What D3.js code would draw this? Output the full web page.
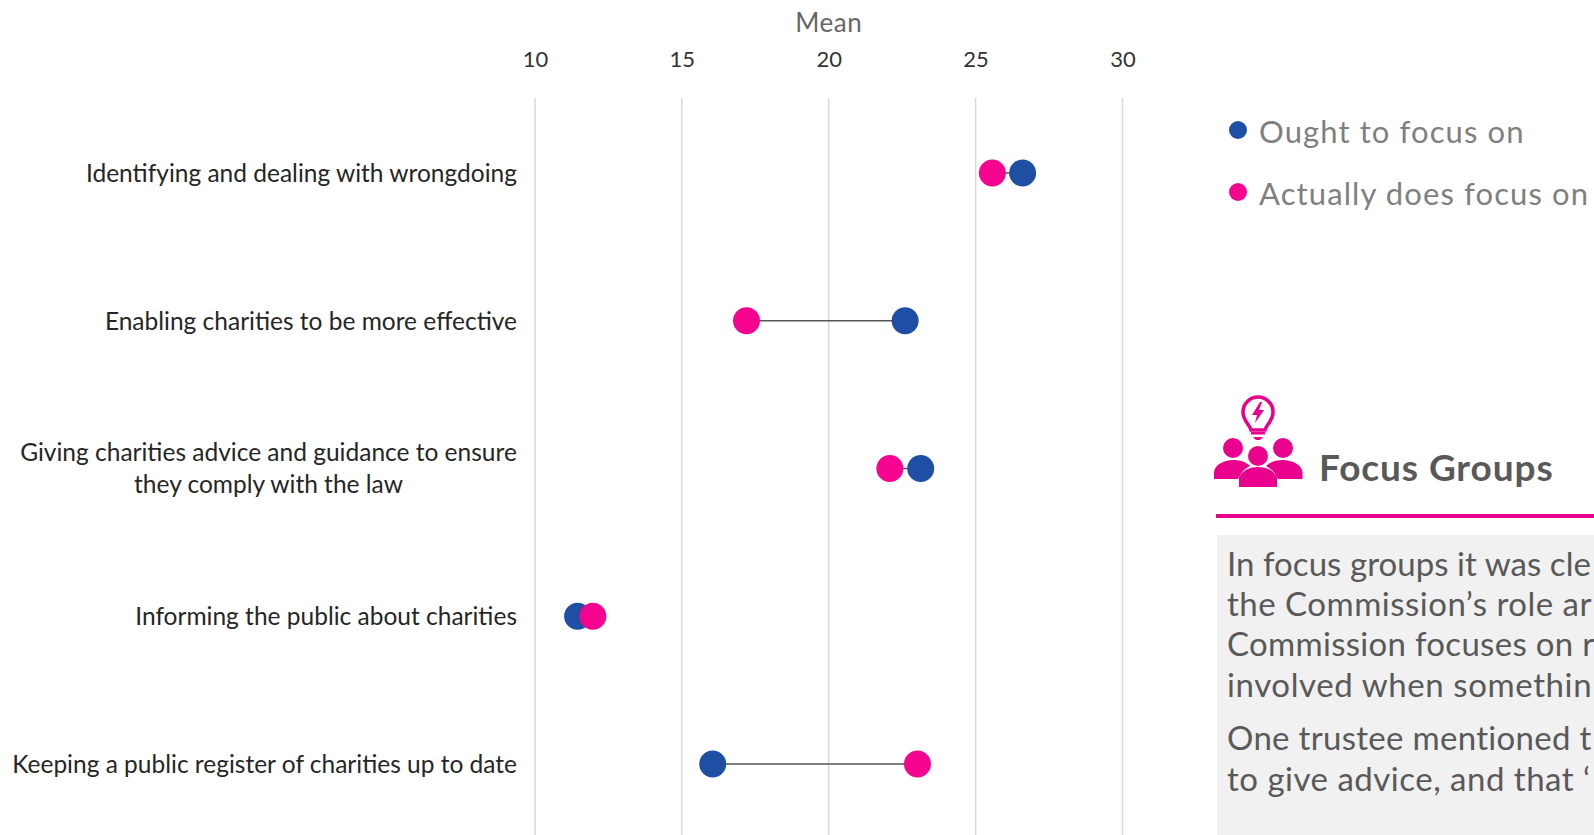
<!DOCTYPE html>
<html>
<head>
<meta charset="utf-8">
<script src="https://cdn.jsdelivr.net/npm/d3@7"></script>
<style>
  html, body { margin: 0; padding: 0; background: #fff; overflow: hidden; }
  svg { display: block; font-family: Lato, "Open Sans", sans-serif; }
</style>
</head>
<body>
<svg id="chart" width="1594" height="835"></svg>
<script>
// Mean scores per Commission activity
const categories = [
  "Identifying and dealing with wrongdoing",
  "Enabling charities to be more effective",
  "Giving charities advice and guidance to ensure|they comply with the law",
  "Informing the public about charities",
  "Keeping a public register of charities up to date"
];
const oughtValues = [26.6, 22.6, 23.13, 11.45, 16.05];
const actualValues = [25.57, 17.2, 22.08, 11.97, 23.02];
const axisTicks = [10, 15, 20, 25, 30];
const legendLabels = ["Ought to focus on", "Actually does focus on"];
const panelTitle = "Focus Groups";
const panelLines = [
  "In focus groups it was cle",
  "the Commission’s role ar",
  "Commission focuses on r",
  "involved when somethin",
  "One trustee mentioned t",
  "to give advice, and that ‘"
];

const BLUE = "#1F4EA5", PINK = "#F5058F", ACCENT = "#E9008C";
const svg = d3.select("#chart");

const x = d3.scaleLinear().domain([10, 30]).range([535, 1122.5]);
const y = d3.scalePoint().domain(categories).range([173, 764]);

// Vertical gridlines
svg.append("g").selectAll("line").data(axisTicks).join("line")
  .attr("x1", d => x(d)).attr("x2", d => x(d))
  .attr("y1", 98).attr("y2", 835)
  .attr("stroke", "#d9d9d9").attr("stroke-width", 1.5);

// Value axis along the top
const axis = svg.append("g").attr("transform", "translate(0,67)")
  .call(d3.axisTop(x).tickValues(axisTicks).tickSize(0).tickPadding(0).tickFormat(d3.format("d")));
axis.select(".domain").remove();
axis.selectAll("text")
  .attr("font-family", "Lato").attr("font-size", 22).attr("fill", "#333");

svg.append("text").attr("x", x(20)).attr("y", 32).attr("text-anchor", "middle")
  .attr("font-size", 26).attr("letter-spacing", 0.5).attr("fill", "#666").text("Mean");

// Category labels, right aligned; wrapped labels are centred as a block
const rows = svg.append("g").selectAll("g").data(categories).join("g")
  .attr("transform", d => `translate(0,${y(d)})`);
rows.each(function (d) {
  const parts = d.split("|");
  const g = d3.select(this);
  parts.forEach((p, i) => {
    g.append("text")
      .attr("x", parts.length > 1 ? 268.5 : 517)
      .attr("y", (parts.length > 1 ? 8 : 9) + (i - (parts.length - 1) / 2) * 32)
      .attr("text-anchor", parts.length > 1 ? "middle" : "end")
      .attr("font-size", 24.5)
      .attr("fill", "#262626").text(p);
  });
});

// Connectors between each pair of dots
svg.append("g").selectAll("line").data(categories).join("line")
  .attr("x1", (d, i) => x(oughtValues[i])).attr("x2", (d, i) => x(actualValues[i]))
  .attr("y1", d => y(d)).attr("y2", d => y(d))
  .attr("stroke", "#555").attr("stroke-width", 1.5);

// Dots: the "actually" series sits on top
svg.append("g").selectAll("circle").data(categories).join("circle")
  .attr("cx", (d, i) => x(oughtValues[i])).attr("cy", d => y(d)).attr("r", 13.5).attr("fill", BLUE);
svg.append("g").selectAll("circle").data(categories).join("circle")
  .attr("cx", (d, i) => x(actualValues[i])).attr("cy", d => y(d)).attr("r", 13.5).attr("fill", PINK);

// Legend
const legendY = d3.scalePoint().domain(legendLabels).range([130, 192]);
const legendColor = d3.scaleOrdinal().domain(legendLabels).range([BLUE, PINK]);
const legend = svg.append("g").selectAll("g").data(legendLabels).join("g")
  .attr("transform", d => `translate(0,${legendY(d)})`);
legend.append("circle").attr("cx", 1238).attr("r", 9).attr("fill", d => legendColor(d));
legend.append("text").attr("x", 1259).attr("y", 13).attr("font-size", 31).attr("letter-spacing", 1.1)
  .attr("fill", "#7f7f7f").text(d => d);

// Focus-groups panel: icon, heading, rule and quote box
const icon = svg.append("g").attr("fill", ACCENT);
const bulb = icon.append("g").attr("fill", "none").attr("stroke", ACCENT);
bulb.append("path").attr("stroke-width", 3.5)
  .attr("d", "M1251,430 C1250,425 1243,421 1243,412 A15,15 0 1 1 1273,412 C1273,421 1266,425 1265,430 Z");
icon.append("path").attr("d", "M1260,402 L1252,415 L1257,415 L1255,423 L1264,410 L1259,410 L1262,402 Z");
icon.append("rect").attr("x", 1251).attr("y", 432).attr("width", 14).attr("height", 2.5);
icon.append("path").attr("d", "M1253,437 H1263 L1260,440 H1256 Z");
icon.append("circle").attr("cx", 1233).attr("cy", 448).attr("r", 10);
icon.append("circle").attr("cx", 1283).attr("cy", 448).attr("r", 10);
icon.append("path").attr("d", "M1214,479 V473 C1214,465 1224,460 1233,460 C1240,460 1246,462 1250,466 C1244,469 1240,474 1238,479 Z");
icon.append("path").attr("d", "M1302.5,479 V473 C1302.5,465 1292,460 1283,460 C1276,460 1270,462 1266,466 C1272,469 1276,474 1278,479 Z");
icon.append("circle").attr("cx", 1258).attr("cy", 456).attr("r", 10);
icon.append("path").attr("d", "M1239,487 V477 C1243,470 1250,467 1258,467 C1266,467 1273,470 1277,477 V487 Z");

svg.append("text").attr("x", 1319).attr("y", 481).attr("font-size", 37).attr("letter-spacing", 0.9).attr("font-weight", 700)
  .attr("fill", "#595959").text(panelTitle);
svg.append("rect").attr("x", 1216).attr("y", 514).attr("width", 378).attr("height", 4).attr("fill", ACCENT);
svg.append("rect").attr("x", 1217).attr("y", 535).attr("width", 377).attr("height", 300).attr("fill", "#f1f1f1");

// Each line is tracked slightly differently so it runs up to the panel's right edge
const lineBase = [576, 616, 656, 697, 750, 791];
const lineTracking = [0.05, 0.5, 0.3, 0.6, 0.3, 0.5];
svg.append("g").selectAll("text").data(panelLines).join("text")
  .attr("x", 1227).attr("y", (d, i) => lineBase[i])
  .attr("font-size", 33).attr("letter-spacing", (d, i) => lineTracking[i]).attr("fill", "#595959").text(d => d);
</script>
</body>
</html>
